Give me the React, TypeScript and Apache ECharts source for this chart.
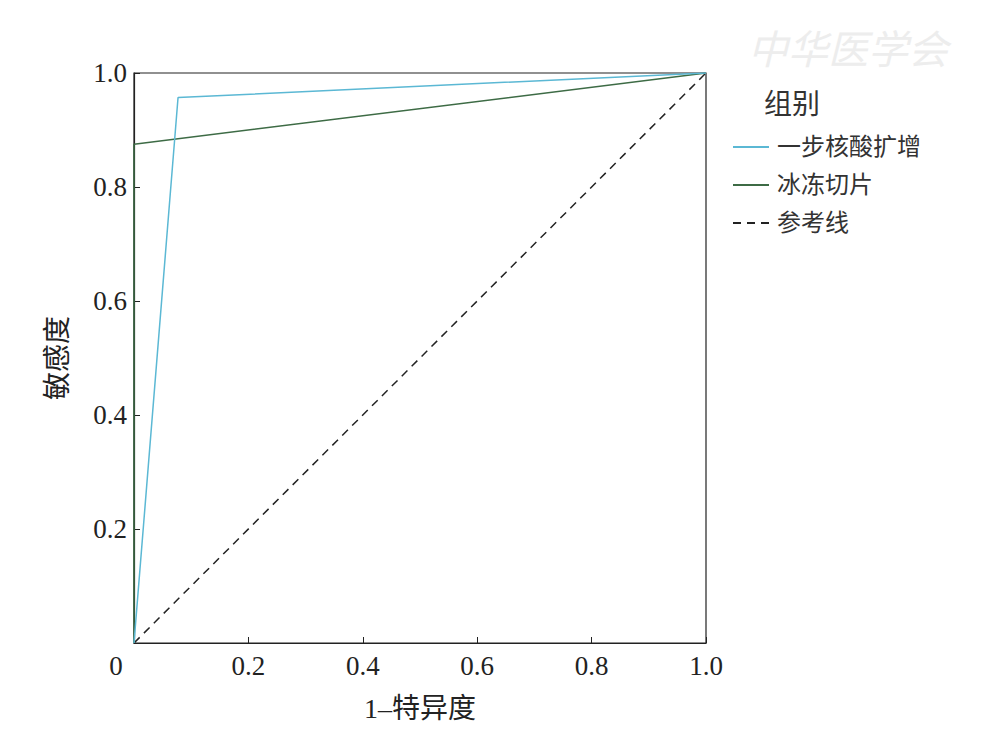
import React, { useEffect, useRef } from "react";
import * as echarts from "echarts";

const seriesNames = ["一步核酸扩增", "冰冻切片", "参考线"];
const onestepX = [0, 0.077, 1];
const onestepY = [0, 0.957, 1];
const frozenX = [0, 0, 1];
const frozenY = [0, 0.875, 1];
const refX = [0, 1];
const refY = [0, 1];
const xName = "1–特异度";
const yName = "敏感度";
const legendTitle = "组别";

const zip = (xs: number[], ys: number[]) => xs.map((x, i) => [x, ys[i]]);

const NUM_FONT = "'Liberation Serif', 'Noto Sans CJK SC', serif";
const CJK_FONT = "'Liberation Serif', 'Noto Sans CJK SC', serif";

export default function App() {
  const ref = useRef<HTMLDivElement>(null);
  useEffect(() => {
    document.body.style.margin = "0";
    const chart = echarts.init(ref.current!, null, { renderer: "svg" });
    chart.setOption({
      animation: false,
      backgroundColor: "#ffffff",
      grid: {
        left: 134,
        top: 73,
        width: 572,
        height: 570,
        show: true,
        borderColor: "#222",
        borderWidth: 1.2,
      },
      xAxis: {
        type: "value",
        min: 0,
        max: 1,
        interval: 0.2,
        name: xName,
        nameLocation: "middle",
        nameGap: 51,
        nameTextStyle: { fontFamily: CJK_FONT, fontSize: 28, color: "#222" },
        axisLine: { show: true, lineStyle: { color: "#222", width: 1.2 } },
        axisTick: { show: true, inside: true, length: 6, lineStyle: { color: "#222" } },
        splitLine: { show: false },
        axisLabel: {
          margin: 9,
          fontFamily: NUM_FONT,
          fontSize: 27,
          color: "#222",
          formatter: (v: number) => (v === 0 ? "{z|0}" : v.toFixed(1)),
          rich: { z: { fontFamily: NUM_FONT, fontSize: 27, color: "#222", padding: [0, 36, 0, 0] } },
        },
      },
      yAxis: {
        type: "value",
        min: 0,
        max: 1,
        interval: 0.2,
        name: yName,
        nameLocation: "middle",
        nameGap: 63,
        nameRotate: 90,
        nameTextStyle: { fontFamily: CJK_FONT, fontSize: 28, color: "#222" },
        axisLine: { show: true, lineStyle: { color: "#222", width: 1.2 } },
        axisTick: { show: true, inside: true, length: 6, lineStyle: { color: "#222" } },
        splitLine: { show: false },
        axisLabel: {
          margin: 7,
          fontFamily: NUM_FONT,
          fontSize: 27,
          color: "#222",
          formatter: (v: number) => (v === 0 ? "" : v.toFixed(1)),
        },
      },
      legend: {
        left: 727,
        top: 130,
        orient: "vertical",
        itemWidth: 36,
        itemHeight: 14,
        itemGap: 14,
        itemStyle: { opacity: 0 },
        textStyle: { fontFamily: CJK_FONT, fontSize: 24, color: "#333", padding: [0, 0, 0, 3] },
        data: seriesNames,
      },
      graphic: [
        {
          type: "text",
          left: 764,
          top: 90,
          style: { text: legendTitle, fontFamily: CJK_FONT, fontSize: 28, fill: "#333" },
        },
        {
          type: "text",
          left: 748,
          top: 30,
          style: { text: "中华医学会", fontFamily: CJK_FONT, fontSize: 40, fontStyle: "italic", fill: "#ededed" },
        },
      ],
      series: [
        {
          name: seriesNames[0],
          type: "line",
          data: zip(onestepX, onestepY),
          symbol: "none",
          lineStyle: { color: "#5bb8d4", width: 1.5 },
          itemStyle: { color: "#5bb8d4" },
          z: 3,
        },
        {
          name: seriesNames[1],
          type: "line",
          data: zip(frozenX, frozenY),
          symbol: "none",
          lineStyle: { color: "#3d6b45", width: 1.5 },
          itemStyle: { color: "#3d6b45" },
          z: 2,
        },
        {
          name: seriesNames[2],
          type: "line",
          data: zip(refX, refY),
          symbol: "none",
          lineStyle: { color: "#222", width: 1.5, type: [8, 6] },
          itemStyle: { color: "#222" },
          z: 1,
        },
      ],
    });
    return () => chart.dispose();
  }, []);
  return <div ref={ref} style={{ width: 992, height: 745 }} />;
}
